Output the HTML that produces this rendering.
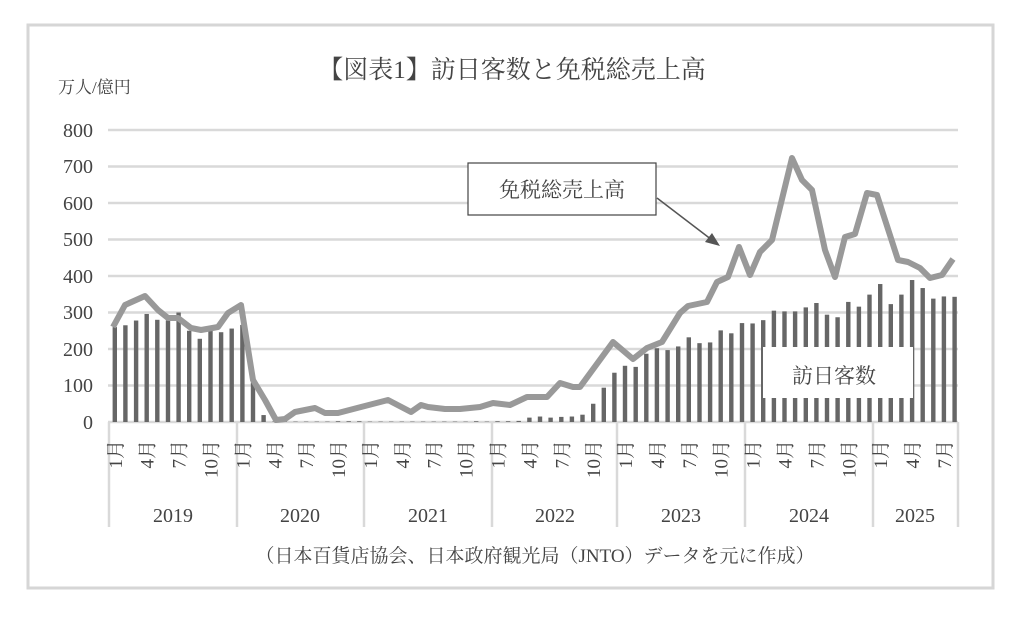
<!DOCTYPE html>
<html><head><meta charset="utf-8"><style>
body{margin:0;background:#fff}
svg{display:block}
text{font-family:"Liberation Serif","Noto Serif CJK SC",serif;fill:#444}
</style></head><body>
<svg width="1024" height="623" viewBox="0 0 1024 623" xmlns="http://www.w3.org/2000/svg">
<rect x="0" y="0" width="1024" height="623" fill="#fff"/>
<rect x="28" y="25" width="965" height="563" fill="#fff" stroke="#d6d6d6" stroke-width="3"/>
<text x="512" y="78" font-size="25" text-anchor="middle" fill="#333">【図表1】訪日客数と免税総売上高</text>
<text x="58" y="93" font-size="17" fill="#333">万人/億円</text>
<g stroke="#d9d9d9" stroke-width="2.5">
<line x1="108" x2="958" y1="130" y2="130"/><line x1="108" x2="958" y1="166.5" y2="166.5"/>
<line x1="108" x2="958" y1="203" y2="203"/><line x1="108" x2="958" y1="239.5" y2="239.5"/>
<line x1="108" x2="958" y1="276" y2="276"/><line x1="108" x2="958" y1="312.5" y2="312.5"/>
<line x1="108" x2="958" y1="349" y2="349"/><line x1="108" x2="958" y1="385.5" y2="385.5"/>
<line x1="108" x2="958" y1="422" y2="422"/>
<line x1="109" x2="109" y1="422" y2="527"/><line x1="237" x2="237" y1="422" y2="527"/>
<line x1="364" x2="364" y1="422" y2="527"/><line x1="492" x2="492" y1="422" y2="527"/>
<line x1="617" x2="617" y1="422" y2="527"/><line x1="745" x2="745" y1="422" y2="527"/>
<line x1="873" x2="873" y1="422" y2="527"/><line x1="958" x2="958" y1="422" y2="527"/>
</g>
<g font-size="20" text-anchor="end">
<text x="93" y="137">800</text><text x="93" y="173">700</text><text x="93" y="210">600</text>
<text x="93" y="246">500</text><text x="93" y="283">400</text><text x="93" y="319">300</text>
<text x="93" y="356">200</text><text x="93" y="392">100</text><text x="93" y="429">0</text>
</g>
<g fill="#666" transform="translate(0,422) scale(1,-0.365)">
<rect x="112.6" y="0" width="4.4" height="260"/><rect x="123.2" y="0" width="4.4" height="265"/><rect x="133.9" y="0" width="4.4" height="278"/><rect x="144.5" y="0" width="4.4" height="296"/><rect x="155.1" y="0" width="4.4" height="280"/><rect x="165.8" y="0" width="4.4" height="278"/><rect x="176.4" y="0" width="4.4" height="300"/><rect x="187.0" y="0" width="4.4" height="250"/><rect x="197.6" y="0" width="4.4" height="228"/><rect x="208.3" y="0" width="4.4" height="250"/><rect x="218.9" y="0" width="4.4" height="246"/><rect x="229.5" y="0" width="4.4" height="256"/>
<rect x="240.2" y="0" width="4.4" height="266"/><rect x="250.8" y="0" width="4.4" height="108"/><rect x="261.4" y="0" width="4.4" height="19"/><rect x="272.1" y="0" width="4.4" height="1"/><rect x="282.7" y="0" width="4.4" height="1"/><rect x="293.3" y="0" width="4.4" height="1"/><rect x="303.9" y="0" width="4.4" height="1"/><rect x="314.6" y="0" width="4.4" height="1"/><rect x="325.2" y="0" width="4.4" height="1"/><rect x="335.8" y="0" width="4.4" height="2"/><rect x="346.5" y="0" width="4.4" height="2"/><rect x="357.1" y="0" width="4.4" height="2"/>
<rect x="367.7" y="0" width="4.4" height="1"/><rect x="378.4" y="0" width="4.4" height="1"/><rect x="389.0" y="0" width="4.4" height="1"/><rect x="399.6" y="0" width="4.4" height="1"/><rect x="410.2" y="0" width="4.4" height="1"/><rect x="420.9" y="0" width="4.4" height="1"/><rect x="431.5" y="0" width="4.4" height="1"/><rect x="442.1" y="0" width="4.4" height="1"/><rect x="452.8" y="0" width="4.4" height="1"/><rect x="463.4" y="0" width="4.4" height="1"/><rect x="474.0" y="0" width="4.4" height="2"/><rect x="484.7" y="0" width="4.4" height="1"/>
<rect x="495.3" y="0" width="4.4" height="2"/><rect x="505.9" y="0" width="4.4" height="2"/><rect x="516.5" y="0" width="4.4" height="3"/><rect x="527.2" y="0" width="4.4" height="12"/><rect x="537.8" y="0" width="4.4" height="15"/><rect x="548.4" y="0" width="4.4" height="12"/><rect x="559.1" y="0" width="4.4" height="14"/><rect x="569.7" y="0" width="4.4" height="15"/><rect x="580.3" y="0" width="4.4" height="20"/><rect x="591.0" y="0" width="4.4" height="50"/><rect x="601.6" y="0" width="4.4" height="94"/><rect x="612.2" y="0" width="4.4" height="135"/>
<rect x="622.8" y="0" width="4.4" height="154"/><rect x="633.5" y="0" width="4.4" height="151"/><rect x="644.1" y="0" width="4.4" height="187"/><rect x="654.7" y="0" width="4.4" height="202"/><rect x="665.4" y="0" width="4.4" height="197"/><rect x="676.0" y="0" width="4.4" height="207"/><rect x="686.6" y="0" width="4.4" height="232"/><rect x="697.3" y="0" width="4.4" height="216"/><rect x="707.9" y="0" width="4.4" height="218"/><rect x="718.5" y="0" width="4.4" height="251"/><rect x="729.1" y="0" width="4.4" height="243"/><rect x="739.8" y="0" width="4.4" height="271"/>
<rect x="750.4" y="0" width="4.4" height="270"/><rect x="761.0" y="0" width="4.4" height="279"/><rect x="771.7" y="0" width="4.4" height="305"/><rect x="782.3" y="0" width="4.4" height="303"/><rect x="792.9" y="0" width="4.4" height="303"/><rect x="803.6" y="0" width="4.4" height="314"/><rect x="814.2" y="0" width="4.4" height="326"/><rect x="824.8" y="0" width="4.4" height="294"/><rect x="835.4" y="0" width="4.4" height="287"/><rect x="846.1" y="0" width="4.4" height="329"/><rect x="856.7" y="0" width="4.4" height="316"/><rect x="867.3" y="0" width="4.4" height="349"/>
<rect x="878.0" y="0" width="4.4" height="378"/><rect x="888.6" y="0" width="4.4" height="323"/><rect x="899.2" y="0" width="4.4" height="349"/><rect x="909.9" y="0" width="4.4" height="389"/><rect x="920.5" y="0" width="4.4" height="367"/><rect x="931.1" y="0" width="4.4" height="338"/><rect x="941.7" y="0" width="4.4" height="344"/><rect x="952.4" y="0" width="4.4" height="343"/>
</g>
<rect x="763" y="347" width="150" height="51" fill="#fff"/>
<text x="834" y="383" font-size="21" text-anchor="middle" fill="#333">訪日客数</text>
<polyline fill="none" stroke="#999" stroke-width="6" stroke-linejoin="round" points="113,327 125,305 145,296 158,310 168,318 178,318 191,328 201,330 218,327 228,313 241,305 253,380 265,400 276,420 285,419 295,412 315,408 325,413 338,413 361,407 388,400 411,412 421,405 428,407 445,409 460,409 470,408 480,407 493,403 510,405 527,397 547,397 560,383 573,387 580,387 613,342 633,359 647,348 662,342 680,313 688,306 707,302 717,282 728,277 739,247 750,275 760,252 772,240 792,158 802,180 812,190 825,250 835,277 845,237 855,234 867,193 877,195 898,260 908,262 920,268 930,278 942,275 953,259"/>
<rect x="468" y="163" width="188" height="52" fill="#fff" stroke="#444" stroke-width="1.2"/>
<text x="562" y="197" font-size="21" text-anchor="middle" fill="#333">免税総売上高</text>
<line x1="657" y1="198" x2="712" y2="240" stroke="#555" stroke-width="1.5"/>
<polygon points="720,246 705,242 712,233" fill="#555"/>
<g font-size="19" text-anchor="end">
<text transform="translate(121.8,440) rotate(-90)">1月</text><text transform="translate(153.7,440) rotate(-90)">4月</text><text transform="translate(185.6,440) rotate(-90)">7月</text><text transform="translate(217.5,440) rotate(-90)">10月</text>
<text transform="translate(249.4,440) rotate(-90)">1月</text><text transform="translate(281.3,440) rotate(-90)">4月</text><text transform="translate(313.1,440) rotate(-90)">7月</text><text transform="translate(345.0,440) rotate(-90)">10月</text>
<text transform="translate(376.9,440) rotate(-90)">1月</text><text transform="translate(408.8,440) rotate(-90)">4月</text><text transform="translate(440.7,440) rotate(-90)">7月</text><text transform="translate(472.6,440) rotate(-90)">10月</text>
<text transform="translate(504.5,440) rotate(-90)">1月</text><text transform="translate(536.4,440) rotate(-90)">4月</text><text transform="translate(568.3,440) rotate(-90)">7月</text><text transform="translate(600.2,440) rotate(-90)">10月</text>
<text transform="translate(632.0,440) rotate(-90)">1月</text><text transform="translate(663.9,440) rotate(-90)">4月</text><text transform="translate(695.8,440) rotate(-90)">7月</text><text transform="translate(727.7,440) rotate(-90)">10月</text>
<text transform="translate(759.6,440) rotate(-90)">1月</text><text transform="translate(791.5,440) rotate(-90)">4月</text><text transform="translate(823.4,440) rotate(-90)">7月</text><text transform="translate(855.3,440) rotate(-90)">10月</text>
<text transform="translate(887.2,440) rotate(-90)">1月</text><text transform="translate(919.1,440) rotate(-90)">4月</text><text transform="translate(951.0,440) rotate(-90)">7月</text>
</g>
<g font-size="20" text-anchor="middle">
<text x="173" y="522">2019</text><text x="300" y="522">2020</text><text x="428" y="522">2021</text>
<text x="555" y="522">2022</text><text x="681" y="522">2023</text><text x="809" y="522">2024</text><text x="915" y="522">2025</text>
</g>
<text x="535" y="562" font-size="19" text-anchor="middle" fill="#333">（日本百貨店協会、日本政府観光局（JNTO）データを元に作成）</text>
</svg>
</body></html>
